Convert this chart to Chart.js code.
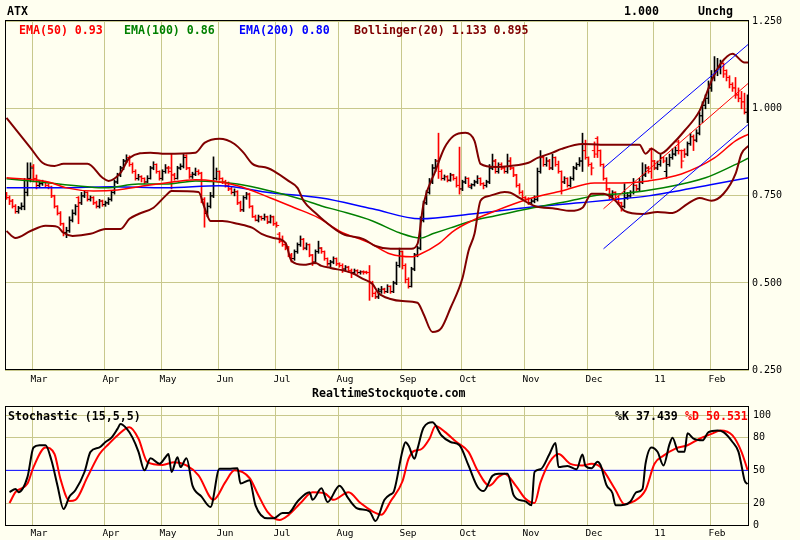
<!DOCTYPE html>
<html lang="en">
<head>
<meta charset="UTF-8">
<title>ATX</title>
<script src="https://cdn.jsdelivr.net/npm/chart.js"></script>
<style>
  body { margin: 0; background: #fffff0; font-family: "DejaVu Sans Mono", monospace; }
  #wrap { position: relative; width: 800px; height: 540px; background: #fffff0; overflow: hidden; }
  canvas { position: absolute; left: 0; }
  #main { top: 0; }
  #stoch { top: 396px; }
  .lbl { position: absolute; font-weight: bold; font-size: 11.6px; line-height: 12px; white-space: pre; z-index: 2; }
</style>
</head>
<body>
<div id="wrap">
  <canvas id="main" width="800" height="396"></canvas>
  <canvas id="stoch" width="800" height="144"></canvas>
  <div class="lbl" style="left:7px;top:5px">ATX</div>
  <div class="lbl" style="left:624px;top:5px">1.000</div>
  <div class="lbl" style="left:698px;top:5px">Unchg</div>
  <div class="lbl" style="left:19px;top:24px;color:#ff0000">EMA(50) 0.93</div>
  <div class="lbl" style="left:124px;top:24px;color:#008000">EMA(100) 0.86</div>
  <div class="lbl" style="left:239px;top:24px;color:#0000ff">EMA(200) 0.80</div>
  <div class="lbl" style="left:354px;top:24px;color:#800000">Bollinger(20) 1.133 0.895</div>
  <div class="lbl" style="left:312px;top:387px">RealtimeStockquote.com</div>
  <div class="lbl" style="left:8px;top:410px">Stochastic (15,5,5)</div>
  <div class="lbl" style="left:615px;top:410px">%K 37.439</div>
  <div class="lbl" style="left:685px;top:410px;color:#ff0000">%D 50.531</div>
</div>

<script>
  // month boundaries in trading-day units
  const monthDays = [8.5, 32.5, 51.5, 70.5, 89.5, 110.5, 131.5, 151.5, 172.5, 193.5, 215.5, 234.5];
  const monthLabels = ['Mar', 'Apr', 'May', 'Jun', 'Jul', 'Aug', 'Sep', 'Oct', 'Nov', 'Dec', '11', 'Feb'];
  const priceTicks = [0.25, 0.5, 0.75, 1.0, 1.25];
  const stochTicks = [0, 20, 50, 80, 100];

  // daily bars
  const opens = [
    .750,.745,.735,.720,.705,.715,.720,.760,.800,.835,
    .800,.780,.785,.790,.780,.775,.750,.720,.700,.670,
    .645,.650,.680,.700,.745,.730,.750,.760,.740,.745,
    .730,.720,.735,.725,.730,.740,.760,.790,.810,.830,
    .850,.860,.840,.820,.800,.805,.800,.790,.800,.830,
    .840,.820,.800,.820,.830,.830,.810,.800,.830,.835,
    .865,.830,.805,.812,.820,.815,.740,.700,.720,.750,
    .800,.820,.800,.790,.780,.770,.760,.762,.730,.710,
    .745,.755,.720,.690,.680,.690,.685,.690,.675,.690,
    .670,.640,.620,.610,.600,.580,.570,.590,.610,.625,
    .600,.610,.580,.560,.590,.600,.590,.570,.555,.560,
    .570,.555,.550,.540,.545,.535,.530,.535,.530,.532,
    .532,.530,.500,.470,.460,.475,.482,.475,.490,.475,
    .500,.550,.590,.550,.510,.490,.540,.580,.600,.680,
    .730,.760,.790,.830,.850,.820,.800,.805,.795,.810,
    .800,.780,.770,.790,.800,.775,.782,.790,.800,.785,
    .780,.790,.830,.850,.820,.840,.830,.820,.850,.830,
    .810,.780,.760,.745,.740,.730,.735,.740,.820,.860,
    .840,.850,.830,.860,.840,.820,.790,.800,.780,.800,
    .830,.840,.850,.880,.860,.840,.880,.915,.880,.840,
    .800,.770,.750,.760,.740,.730,.720,.745,.750,.760,
    .780,.770,.790,.810,.830,.885,.850,.830,.840,.860,
    .820,.840,.860,.870,.905,.880,.880,.870,.900,.920,
    .910,.930,.980,1.010,1.030,1.060,1.090,1.110,1.120,1.130,
    1.110,1.090,1.070,1.060,1.040,1.030,1.020,.990
  ];
  const highs = [
    .760,.750,.740,.725,.720,.730,.800,.845,.845,.840,
    .810,.795,.795,.792,.785,.778,.752,.722,.705,.672,
    .660,.690,.710,.725,.748,.760,.765,.762,.750,.748,
    .735,.740,.738,.735,.745,.765,.795,.815,.835,.855,
    .868,.865,.845,.825,.812,.808,.802,.808,.835,.848,
    .842,.822,.825,.840,.835,.870,.815,.835,.842,.870,
    .868,.832,.818,.830,.825,.818,.745,.730,.760,.862,
    .830,.822,.802,.795,.790,.775,.770,.765,.735,.750,
    .760,.758,.722,.695,.695,.692,.698,.692,.695,.692,
    .675,.645,.635,.615,.605,.585,.595,.615,.635,.628,
    .615,.612,.582,.595,.620,.602,.592,.572,.565,.575,
    .572,.558,.555,.550,.548,.540,.540,.538,.535,.535,
    .534,.550,.505,.475,.485,.490,.485,.495,.492,.505,
    .560,.600,.592,.555,.515,.545,.585,.605,.690,.735,
    .765,.800,.840,.855,.930,.825,.810,.808,.815,.812,
    .805,.890,.795,.805,.802,.785,.795,.808,.802,.788,
    .795,.840,.870,.855,.845,.845,.835,.870,.860,.832,
    .812,.785,.765,.748,.745,.742,.750,.830,.880,.865,
    .860,.855,.870,.862,.850,.822,.805,.802,.805,.835,
    .845,.860,.930,.910,.862,.845,.905,.920,.882,.842,
    .802,.772,.765,.762,.750,.732,.785,.760,.765,.800,
    .782,.800,.845,.840,.835,.888,.852,.850,.870,.862,
    .860,.870,.885,.890,.910,.882,.885,.905,.930,.925,
    .940,.990,1.020,1.040,1.080,1.110,1.150,1.145,1.140,1.132,
    1.112,1.095,1.075,1.090,1.060,1.050,1.045,1.040
  ];
  const lows = [
    .740,.725,.715,.700,.700,.710,.710,.750,.790,.790,
    .770,.775,.780,.775,.770,.745,.715,.695,.665,.635,
    .630,.645,.675,.695,.670,.725,.745,.735,.735,.725,
    .715,.715,.720,.720,.725,.735,.755,.785,.805,.825,
    .845,.835,.815,.795,.795,.790,.785,.788,.798,.825,
    .815,.795,.795,.815,.815,.770,.795,.798,.825,.830,
    .825,.800,.800,.808,.810,.730,.660,.690,.715,.745,
    .795,.795,.785,.775,.765,.755,.750,.725,.705,.705,
    .740,.715,.688,.678,.675,.680,.680,.670,.672,.665,
    .660,.615,.605,.595,.575,.560,.565,.585,.605,.595,
    .595,.575,.550,.555,.585,.585,.565,.550,.545,.555,
    .550,.545,.530,.535,.530,.515,.525,.525,.525,.525,
    .526,.450,.460,.455,.455,.470,.470,.472,.470,.472,
    .495,.545,.540,.500,.485,.488,.535,.575,.595,.675,
    .725,.755,.785,.820,.800,.795,.795,.790,.792,.795,
    .775,.755,.765,.785,.775,.770,.778,.785,.780,.770,
    .775,.785,.825,.815,.815,.825,.815,.815,.825,.805,
    .775,.755,.740,.735,.725,.725,.730,.735,.815,.835,
    .835,.825,.825,.835,.815,.755,.785,.775,.775,.795,
    .825,.835,.820,.855,.835,.810,.860,.860,.835,.795,
    .765,.740,.745,.735,.725,.706,.715,.740,.745,.755,
    .765,.765,.785,.805,.815,.800,.825,.825,.835,.845,
    .800,.835,.855,.865,.870,.830,.860,.865,.895,.880,
    .905,.925,.960,1.000,1.015,1.050,1.080,1.095,1.100,1.090,
    1.080,1.060,1.050,1.030,1.020,1.000,.985,.960
  ];
  const closes = [
    .745,.735,.720,.705,.715,.720,.760,.800,.830,.800,
    .780,.785,.790,.780,.775,.750,.720,.700,.670,.645,
    .650,.680,.700,.720,.730,.750,.760,.740,.745,.730,
    .720,.735,.725,.730,.740,.760,.790,.810,.830,.850,
    .860,.840,.820,.800,.805,.800,.790,.800,.830,.840,
    .820,.800,.820,.830,.820,.810,.800,.830,.835,.860,
    .830,.810,.812,.820,.815,.740,.700,.720,.750,.800,
    .820,.800,.790,.780,.770,.760,.762,.730,.710,.745,
    .755,.720,.690,.680,.690,.685,.690,.675,.690,.670,
    .665,.620,.610,.600,.580,.570,.590,.610,.625,.600,
    .610,.580,.560,.590,.600,.590,.570,.555,.560,.570,
    .555,.550,.540,.545,.535,.530,.535,.530,.532,.530,
    .530,.500,.470,.460,.480,.482,.475,.490,.475,.500,
    .550,.590,.550,.510,.490,.540,.580,.600,.680,.730,
    .760,.790,.830,.850,.820,.800,.805,.795,.810,.800,
    .780,.770,.790,.800,.780,.782,.790,.800,.785,.780,
    .790,.830,.850,.820,.840,.830,.820,.850,.830,.810,
    .780,.760,.745,.740,.730,.735,.740,.820,.860,.840,
    .850,.830,.860,.840,.820,.790,.800,.780,.800,.830,
    .840,.850,.880,.860,.840,.830,.870,.880,.840,.800,
    .770,.750,.760,.740,.730,.720,.745,.750,.760,.780,
    .770,.790,.810,.830,.820,.850,.830,.840,.860,.850,
    .840,.860,.870,.880,.880,.850,.870,.900,.920,.910,
    .930,.980,1.010,1.030,1.060,1.090,1.110,1.120,1.130,1.100,
    1.090,1.070,1.060,1.040,1.030,1.020,.990,1.000
  ];

  // moving averages (day, value)
  const ema50Days = [0, 14, 20, 29, 37, 46, 53, 63, 77, 88, 96, 104, 111, 121, 128, 135, 138, 144, 149, 155, 163, 174, 185, 196, 205, 214, 225, 236, 243, 247.5];
  const ema50 = [0.802, 0.790, 0.773, 0.764, 0.767, 0.779, 0.787, 0.796, 0.779, 0.744, 0.716, 0.687, 0.649, 0.615, 0.583, 0.575, 0.583, 0.612, 0.649, 0.678, 0.707, 0.741, 0.764, 0.787, 0.787, 0.793, 0.813, 0.859, 0.908, 0.928];
  const ema100Days = [0, 8, 27, 33, 44, 53, 63, 77, 88, 98, 105, 111, 122, 131, 138, 142, 148, 155, 163, 174, 188, 198, 205, 219, 233, 242, 247.5];
  const ema100 = [0.799, 0.793, 0.776, 0.773, 0.784, 0.784, 0.793, 0.784, 0.764, 0.741, 0.721, 0.707, 0.678, 0.644, 0.629, 0.641, 0.658, 0.678, 0.693, 0.713, 0.736, 0.753, 0.756, 0.773, 0.802, 0.836, 0.859];
  const ema200Days = [0, 18, 35, 53, 71, 88, 105, 122, 138, 155, 173, 191, 201, 214, 236, 247.5];
  const ema200 = [0.773, 0.773, 0.776, 0.773, 0.779, 0.759, 0.744, 0.713, 0.684, 0.698, 0.716, 0.730, 0.738, 0.750, 0.784, 0.802];

  // bollinger bands
  const bbUpperDays = [0, 8, 12, 16, 19, 27, 32, 34, 38, 41, 48, 53, 63, 66, 71, 76, 79, 82, 87, 89, 94, 97, 99, 103, 106, 112, 119, 123, 128, 135, 137, 139, 143, 146, 149, 153, 156, 158, 163, 168, 174, 177, 182, 185, 192, 198, 211, 213, 215, 218, 222, 226, 231, 235, 238, 242, 246, 247.5];
  const bbUpper = [0.974, 0.888, 0.845, 0.836, 0.842, 0.842, 0.802, 0.793, 0.816, 0.859, 0.874, 0.871, 0.874, 0.902, 0.914, 0.899, 0.874, 0.842, 0.830, 0.822, 0.793, 0.773, 0.736, 0.701, 0.678, 0.641, 0.626, 0.606, 0.598, 0.598, 0.612, 0.727, 0.822, 0.888, 0.922, 0.931, 0.908, 0.842, 0.833, 0.836, 0.845, 0.859, 0.874, 0.885, 0.899, 0.897, 0.897, 0.871, 0.885, 0.871, 0.899, 0.937, 0.994, 1.080, 1.129, 1.158, 1.133, 1.133];
  const bbLowerDays = [0, 3, 8, 13, 17, 19, 22, 28, 33, 38, 41, 44, 49, 53, 55, 64, 66, 68, 72, 77, 82, 85, 89, 93, 95, 99, 103, 105, 108, 115, 119, 122, 124, 128, 132, 137, 139, 142, 145, 148, 152, 154, 156, 158, 161, 166, 168, 171, 176, 183, 188, 192, 195, 199, 203, 206, 212, 217, 222, 227, 231, 235, 239, 243, 245, 247.5];
  const bbLower = [0.649, 0.629, 0.649, 0.664, 0.661, 0.644, 0.635, 0.641, 0.655, 0.655, 0.684, 0.698, 0.716, 0.750, 0.764, 0.761, 0.716, 0.678, 0.678, 0.670, 0.658, 0.641, 0.629, 0.615, 0.563, 0.552, 0.557, 0.549, 0.543, 0.529, 0.511, 0.497, 0.471, 0.454, 0.448, 0.443, 0.411, 0.359, 0.371, 0.428, 0.514, 0.592, 0.641, 0.736, 0.750, 0.761, 0.759, 0.744, 0.721, 0.713, 0.707, 0.716, 0.756, 0.756, 0.736, 0.707, 0.698, 0.704, 0.701, 0.727, 0.744, 0.736, 0.756, 0.813, 0.871, 0.895];

  // trend channel
  const trendDays = [199, 247.5];
  const trendUpper = [0.830, 1.187];
  const trendMid = [0.713, 1.075];
  const trendLower = [0.598, 0.957];

  // stochastic
  const stochKDays = [1, 3, 4, 7, 9, 11, 13, 15, 17, 19, 21, 23, 26, 28, 31, 33, 35, 37, 38, 40, 42, 44, 46, 48, 51, 53, 54, 55, 57, 58, 60, 62, 65, 68, 71, 74, 77, 78, 81, 83, 87, 89, 92, 94, 97, 101, 102, 105, 107, 111, 114, 117, 121, 123, 126, 128, 129, 132, 133, 134, 136, 137, 139, 142, 145, 148, 151, 154, 157, 159, 162, 164, 167, 169, 170, 173, 175, 176, 178, 181, 183, 184, 187, 190, 192, 193, 195, 197, 198, 200, 202, 203, 206, 208, 210, 212, 213, 215, 217, 219, 221, 222, 224, 226, 227, 229, 232, 234, 237, 239, 242, 244, 245, 246, 247];
  const stochK = [30, 33, 30, 44, 71, 73, 73, 59, 36, 14.5, 26, 32, 48.5, 67, 71, 76, 80, 88, 92.5, 88.5, 80, 67, 50, 61, 56, 62, 65, 48.5, 62, 53, 61, 36, 26, 16.5, 51.5, 51.5, 52, 38, 41, 18, 6, 6, 11, 11, 21.5, 30, 23, 33.5, 21, 36, 24, 15, 12.5, 3.6, 23, 28, 30, 68, 75.8, 72.7, 60.6, 69.7, 89, 94, 82, 76, 73, 54.5, 35, 31, 45, 47, 47, 27.5, 24, 21.5, 18, 48.5, 51, 65, 75, 53, 54, 51, 64.5, 54, 52, 58, 55, 36.5, 29, 18, 18.5, 21.5, 30, 33, 56, 71, 67, 54.5, 74, 80, 67, 67, 84, 79, 77.5, 85, 86.5, 85, 76, 67, 54.5, 41, 37.4];
  const stochDDays = [1, 3, 7, 9, 13, 16, 18, 21, 23, 27, 31, 34, 37, 41, 44, 47, 52, 56, 60, 64, 69, 73, 76, 81, 84, 87, 91, 94, 98, 102, 106, 109, 114, 118, 122, 125, 128, 132, 134, 136, 138, 141, 143, 146, 150, 154, 157, 161, 164, 166, 170, 173, 176, 178, 181, 184, 188, 192, 195, 198, 203, 206, 209, 213, 216, 219, 223, 227, 231, 235, 238, 242, 245, 247];
  const stochD = [20, 30, 38, 53, 71, 65, 42, 22, 23, 44, 65, 74, 82, 89.5, 79, 57.5, 55, 57.5, 54.5, 45.5, 23, 39.5, 50, 43, 27, 12, 4.5, 9, 20, 30, 29, 23, 30, 20, 12.5, 9.4, 21.5, 40, 60.6, 68, 69, 79, 90.6, 85.5, 76, 67, 50, 36, 44, 47, 35, 24, 20, 39, 57.5, 65, 56, 54.5, 56, 53, 32, 19, 21.5, 32, 56, 63.5, 70, 73, 79, 83.5, 86.5, 82, 67, 50.5];
  const stochMidDays = [-0.5, 247.5];
  const stochMid = [50, 50];

  const gridColor = '#c8c88c';
  const tickFont = { family: 'DejaVu Sans Mono', size: 10 };
  const monthFont = { family: 'DejaVu Sans Mono', size: 9.5 };

  const xy = (xs, ys) => xs.map((x, i) => ({ x: x, y: ys[i] }));
  const lineDs = (xs, ys, color, width, smooth) => ({
    type: 'line', data: xy(xs, ys), borderColor: color, borderWidth: width,
    pointRadius: 0, fill: false, cubicInterpolationMode: smooth ? 'monotone' : 'default', tension: 0
  });

  const days = closes.map((c, i) => i);
  const barColors = days.map(i => closes[i] >= opens[i] ? '#000000' : '#ff0000');

  // black frame round the plot area
  const frame = {
    id: 'frame',
    afterDatasetsDraw(chart) {
      const { ctx, chartArea: a } = chart;
      ctx.save();
      ctx.strokeStyle = '#000';
      ctx.lineWidth = 1;
      ctx.strokeRect(Math.round(a.left) + 0.5, Math.round(a.top) + 0.5,
        Math.round(a.right - a.left) - 1, Math.round(a.bottom - a.top) - 1);
      ctx.restore();
    }
  };

  function xAxis(height, pad) {
    return {
      type: 'linear', min: -0.5, max: 247.5, offset: false,
      afterBuildTicks: s => { s.ticks = monthDays.map(v => ({ value: v })); },
      afterFit: s => { s.height = height; },
      grid: { color: gridColor, drawTicks: false, offset: false },
      border: { display: false },
      ticks: {
        autoSkip: false, maxRotation: 0, padding: pad, labelOffset: 7,
        color: '#000', font: monthFont, callback: (v, i) => monthLabels[i]
      }
    };
  }

  new Chart(document.getElementById('main'), {
    type: 'bar',
    data: {
      datasets: [
        lineDs(trendDays, trendUpper, '#0000ff', 1, false),
        lineDs(trendDays, trendMid, '#ff0000', 1, false),
        lineDs(trendDays, trendLower, '#0000ff', 1, false),
        lineDs(bbUpperDays, bbUpper, '#800000', 2, true),
        lineDs(bbLowerDays, bbLower, '#800000', 2, true),
        lineDs(ema50Days, ema50, '#ff0000', 1.5, true),
        lineDs(ema100Days, ema100, '#008000', 1.5, true),
        lineDs(ema200Days, ema200, '#0000ff', 1.5, true),
        {
          type: 'line', showLine: false,
          data: days.map(i => ({ x: i - 0.5, y: opens[i] })),
          pointStyle: 'line', pointRadius: 1.2, pointHoverRadius: 1.2,
          pointBorderWidth: 1, pointBorderColor: barColors
        },
        {
          type: 'line', showLine: false,
          data: days.map(i => ({ x: i + 0.5, y: closes[i] })),
          pointStyle: 'line', pointRadius: 1.2, pointHoverRadius: 1.2,
          pointBorderWidth: 1, pointBorderColor: barColors
        },
        {
          type: 'bar',
          data: days.map(i => ({ x: i, y: [lows[i], highs[i]] })),
          backgroundColor: barColors, barThickness: 1, borderWidth: 0
        }
      ]
    },
    options: {
      responsive: false, animation: false, devicePixelRatio: 1,
      layout: { padding: { left: 5, top: 20, right: 0, bottom: 0 } },
      plugins: { legend: { display: false }, tooltip: { enabled: false } },
      scales: {
        x: xAxis(26, 4),
        y: {
          type: 'linear', position: 'right', min: 0.25, max: 1.255,
          afterBuildTicks: s => { s.ticks = priceTicks.map(v => ({ value: v })); },
          afterFit: s => { s.width = 51; },
          grid: { color: gridColor, drawTicks: false },
          border: { display: false },
          ticks: { padding: 3, color: '#000', font: tickFont, callback: v => v.toFixed(3) }
        }
      }
    },
    plugins: [frame]
  });

  new Chart(document.getElementById('stoch'), {
    type: 'line',
    data: {
      datasets: [
        lineDs(stochKDays, stochK, '#000000', 2, true),
        lineDs(stochDDays, stochD, '#ff0000', 2, true),
        lineDs(stochMidDays, stochMid, '#0000ff', 1, false)
      ]
    },
    options: {
      responsive: false, animation: false, devicePixelRatio: 1,
      layout: { padding: { left: 5, top: 6, right: 0, bottom: 0 } },
      plugins: { legend: { display: false }, tooltip: { enabled: false } },
      scales: {
        x: xAxis(14, 2),
        y: {
          type: 'linear', position: 'right', min: -1, max: 109,
          afterBuildTicks: s => { s.ticks = stochTicks.map(v => ({ value: v })); },
          afterFit: s => { s.width = 51; },
          grid: {
            drawTicks: false,
            color: c => [20, 80, 100].includes(c.tick.value) ? gridColor : 'rgba(0,0,0,0)'
          },
          border: { display: false },
          ticks: { padding: 4, color: '#000', font: tickFont }
        }
      }
    },
    plugins: [frame]
  });
</script>
</body>
</html>
